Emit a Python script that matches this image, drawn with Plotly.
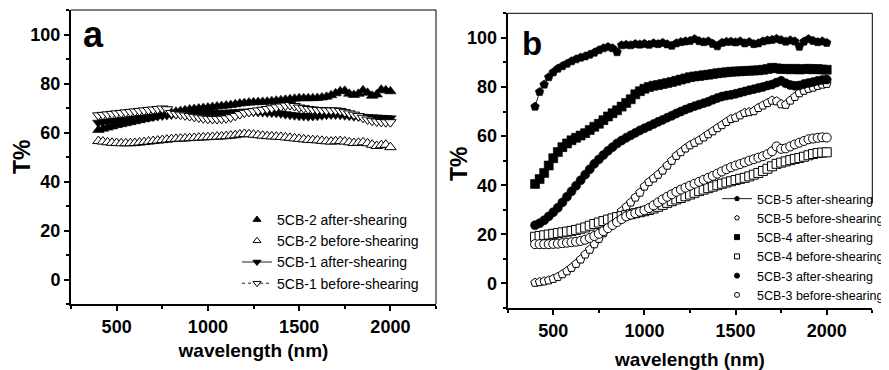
import plotly.graph_objects as go

# ---------------- data ----------------
wavelength = list(range(400, 2025, 25))  # nm, 65 points

# Panel a
a_5cb2_after = [61, 61.5, 62, 62.5, 63, 63.4, 63.8, 64.2,
                64.6, 65, 65.4, 65.8, 66.2, 66.7, 67.2, 67.7,
                68.1, 68.5, 68.8, 69.1, 69.4, 69.6, 69.8, 70,
                70.2, 70.4, 70.6, 70.8, 71, 71.2, 71.5, 71.8,
                72, 72.2, 72.3, 72.4, 72.5, 72.6, 72.8, 73,
                73.2, 73.4, 73.6, 73.8, 74, 74, 74, 74,
                74.1, 74.3, 74.6, 75.2, 76, 76.8, 77, 75.8,
                75.3, 75.8, 77.2, 76.2, 75, 75.5, 77.5, 77.2,
                76.8]
a_5cb2_before = [56.5, 56.3, 56, 55.8, 55.7, 55.6, 55.6, 55.6,
                 55.7, 55.9, 56.1, 56.3, 56.5, 56.7, 56.9, 57.1,
                 57.3, 57.4, 57.5, 57.6, 57.7, 57.8, 57.9, 58,
                 58.1, 58.2, 58.3, 58.4, 58.5, 58.7, 58.9, 59.2,
                 59.4, 59.3, 59.1, 58.9, 58.7, 58.5, 58.4, 58.3,
                 58.2, 58, 57.8, 57.6, 57.4, 57.2, 57, 56.9,
                 56.8, 56.6, 56.4, 56.3, 56.4, 56.5, 56.3, 56,
                 55.7, 55.8, 56, 55.6, 55, 54.5, 54.8, 55,
                 54]
a_5cb1_after = [64, 64.3, 64.5, 64.7, 64.9, 65.1, 65.3, 65.5,
                65.7, 65.9, 66.1, 66.3, 66.5, 66.7, 66.9, 67.1,
                67.3, 67.5, 67.6, 67.7, 67.8, 67.9, 68, 68,
                68, 68, 68, 68, 68.1, 68.2, 68.3, 68.4,
                68.5, 68.5, 68.5, 68.4, 68.3, 68.2, 68.1, 68,
                67.8, 67.5, 67.2, 67, 66.8, 66.7, 66.6, 66.7,
                66.8, 67, 67.2, 67.3, 67.3, 67.2, 67, 66.8,
                66.6, 66.5, 66.4, 66.3, 66.2, 66.1, 66, 65.9,
                65.8]
a_5cb1_before = [67, 67.2, 67.4, 67.6, 67.8, 68, 68.2, 68.4,
                 68.6, 68.8, 69, 69.2, 69.4, 69.6, 69.8, 69.5,
                 68, 67.6, 67.3, 67, 66.7, 66.4, 66.1, 65.8,
                 65.6, 65.5, 65.5, 65.6, 65.8, 66.2, 66.8, 67.5,
                 68.1, 68.4, 68.7, 69, 69.3, 69.6, 69.9, 70.3,
                 70.6, 71, 71.2, 70.8, 70.2, 69.9, 69.6, 69.4,
                 69.2, 69.1, 69, 69, 69, 68.8, 68.3, 67.8,
                 67.3, 66.7, 66, 65.3, 64.8, 64.5, 64.3, 64.2,
                 64.2]

# Panel b
b_5cb5_after = [72, 78, 81, 84, 86, 87.5, 88.5, 89.5,
                90.5, 91.3, 92, 92.5, 93.2, 94, 95, 95.8,
                96.3, 95.8, 94.2, 97, 97.2, 97, 97.5, 97.3,
                97.6, 97.2, 97.8, 97.5, 98, 97.4, 96.8, 97.8,
                98.3, 98.6, 98.8, 99.5, 98.7, 98.3, 98.6, 97.6,
                96.6, 98, 98.4, 98.5, 98.2, 98.6, 97.8, 98.3,
                97.5, 97.8, 98.6, 99, 99.2, 99.6, 99.1, 98.5,
                99, 98.6, 96.4, 98.5, 99.5, 98.8, 98.3, 98.6,
                98]
b_5cb5_before = [0.3, 0.6, 0.9, 1.3, 1.9, 2.7, 3.8, 5,
                 6.4, 8, 9.8, 11.8, 13.8, 16, 18.2, 20.5,
                 22.8, 25, 27.3, 29.5, 31.2, 33, 35, 37,
                 39.5, 41.3, 42.8, 44.3, 46, 48, 50, 52,
                 53.5, 55, 56.3, 57.3, 58.3, 59.5, 60.8, 62,
                 63.3, 64.5, 65.8, 67, 67.5, 68.5, 69.5, 69.8,
                 70.2, 71.5, 72.5, 73.5, 74.5, 74.2, 73, 72.8,
                 74.5, 76, 77.5, 78.5, 79.3, 79.8, 80.5, 81,
                 81.3]
b_5cb4_after = [40.5, 42.5, 45, 48, 51, 53.5, 55.5, 57,
                58.3, 59.3, 60.2, 61.2, 62.5, 63.8, 65, 66.5,
                68, 69.3, 70.5, 72, 73.5, 75, 77, 78.3,
                79.3, 80, 80.5, 80.8, 81.2, 81.6, 82, 82.5,
                83, 83.5, 84, 84.3, 84.5, 84.8, 85, 85.3,
                85.6, 85.8, 86, 86.2, 86.3, 86.4, 86.5, 86.6,
                86.7, 86.8, 87, 87.3, 87.8, 87.6, 87.3, 87.4,
                87.2, 87.4, 87.1, 87.3, 87.4, 87.2, 87.3, 87.1,
                87]
b_5cb4_before = [19, 19.3, 19.6, 19.9, 20.2, 20.5, 20.8, 21.1,
                 21.4, 21.8, 22.3, 22.8, 23.5, 24.2, 24.8, 25.4,
                 26, 26.5, 27, 27.4, 27.8, 28.2, 28.6, 29,
                 29.4, 29.9, 30.5, 31.2, 32, 32.8, 33.5, 34.2,
                 34.8, 35.5, 36.2, 36.9, 37.6, 38.2, 38.8, 39.4,
                 40, 40.6, 41.1, 41.6, 42.1, 42.6, 43, 43.6,
                 44.3, 45, 45.8, 46.7, 47.7, 48.7, 49.2, 49.7,
                 50.2, 50.7, 51.1, 51.6, 52.2, 52.7, 53.1, 53.3,
                 53.4]
b_5cb3_after = [23.7, 24.5, 25.7, 27.3, 29, 30.8, 33, 35.3,
                37.5, 39.8, 42, 44.3, 46.5, 48.7, 50.5, 52.3,
                54, 55.5, 57, 58.2, 59.3, 60.3, 61.3, 62.3,
                63.2, 64, 64.9, 65.8, 66.6, 67.5, 68.3, 69.2,
                70, 70.8, 71.5, 72.2, 72.8, 73.4, 74, 74.8,
                75.5, 76.1, 76.5, 76.8, 77.2, 77.7, 78.2, 78.7,
                79.1, 79.6, 80, 80.6, 81, 81.8, 82.5, 81.5,
                80.8, 80.5, 80.6, 81.2, 81.6, 82, 82.5, 82.8,
                83]
b_5cb3_before = [16, 16, 16, 16, 16.1, 16.2, 16.4, 16.6,
                 16.8, 17, 17.3, 17.8, 18.5, 19.3, 20.2, 21.3,
                 22.5, 23.8, 25, 26.2, 27.3, 28, 28.6, 29.2,
                 29.8, 30.7, 31.8, 33, 34.2, 35.3, 36.3, 37.3,
                 38.2, 39, 39.8, 40.6, 41.4, 42.2, 43, 43.8,
                 44.7, 45.6, 46.5, 47.3, 48, 48.6, 49.3, 50,
                 50.6, 51.2, 51.8, 52.6, 53.8, 55.8, 54.8, 55,
                 55.8, 56.6, 57.3, 58, 58.7, 59, 59.3, 59.5,
                 59.4]

names_a = ["5CB-2 after-shearing", "5CB-2 before-shearing",
           "5CB-1 after-shearing", "5CB-1 before-shearing"]
names_b = ["5CB-5 after-shearing", "5CB-5 before-shearing",
           "5CB-4 after-shearing", "5CB-4 before-shearing",
           "5CB-3 after-shearing", "5CB-3 before-shearing"]

x_ticks = [500, 1000, 1500, 2000]
y_ticks = [0, 20, 40, 60, 80, 100]

# ---------------- styling ----------------
FONT = "Liberation Sans, Arial, Helvetica, sans-serif"
# the page body has an 8 px default margin; size the figure to the rest
OFF = 8
W, H = 889 - OFF, 370 - OFF


def px(x):
    return (x - OFF) / W


def py(y):
    return 1 - (y - OFF) / H


# (values, symbol, filled, mode, line dash)
series_a = [
    (a_5cb2_after, "triangle-up", True, "markers", None),
    (a_5cb2_before, "triangle-up", False, "markers", None),
    (a_5cb1_after, "triangle-down", True, "lines+markers", "solid"),
    (a_5cb1_before, "triangle-down", False, "lines+markers", "dot"),
]
series_b = [
    (b_5cb5_after, "pentagon", True, "lines+markers", "solid"),
    (b_5cb5_before, "pentagon", False, "markers", None),
    (b_5cb4_after, "square", True, "markers", None),
    (b_5cb4_before, "square", False, "markers", None),
    (b_5cb3_after, "circle", True, "markers", None),
    (b_5cb3_before, "circle", False, "markers", None),
]

fig = go.Figure()


def add_series(series, names, xa, ya, legend, msize, lsize):
    for (vals, sym, filled, mode, dash), name in zip(series, names):
        fill = "black" if filled else "white"
        line = dict(color="#222222", width=1, dash=dash) if dash else None
        fig.add_trace(go.Scatter(
            x=wavelength, y=vals, mode=mode, name=name,
            xaxis=xa, yaxis=ya, showlegend=False,
            line=line,
            marker=dict(symbol=sym, size=msize, color=fill,
                        line=dict(color="black", width=1 if not filled else 0.6)),
        ))
        # legend entry (smaller symbol like the original)
        fig.add_trace(go.Scatter(
            x=[None], y=[None], mode=mode, name=name,
            xaxis=xa, yaxis=ya, legend=legend, showlegend=True,
            line=line,
            marker=dict(symbol=sym, size=lsize, color=fill,
                        line=dict(color="black", width=1)),
        ))


add_series(series_a, names_a, "x", "y", "legend", 10, 7)
add_series(series_b, names_b, "x2", "y2", "legend2", 9, 5)

dom_a_x = [px(71), px(436)]
dom_a_y = [py(304), py(10)]
dom_b_x = [px(507.7), px(872.3)]
dom_b_y = [py(308), py(13.3)]

tickfont = dict(family=FONT, size=18, color="black")
titlefont = dict(family=FONT, size=19, color="black")
ytitlefont = dict(family=FONT, size=23, color="black")


def bold(v):
    return "<b>%s</b>" % v


def xaxis(domain, anchor, standoff):
    return dict(domain=domain, anchor=anchor, range=[250, 2250],
                tickmode="array", tickvals=x_ticks,
                ticktext=[bold(v) for v in x_ticks],
                ticks="outside", ticklen=5, tickwidth=1.5, tickcolor="black",
                minor=dict(ticks="outside", ticklen=3, tickwidth=1.5,
                           tickcolor="black", dtick=250, tick0=250),
                showline=True, linewidth=2, linecolor="black",
                showgrid=False, zeroline=False, tickfont=tickfont,
                automargin=False,
                title=dict(text=bold("wavelength (nm)"), font=titlefont,
                           standoff=standoff))


def yaxis(domain, anchor):
    return dict(domain=domain, anchor=anchor, range=[-10, 110],
                tickmode="array", tickvals=y_ticks,
                ticktext=[bold(v) for v in y_ticks],
                ticks="outside", ticklen=5, tickwidth=1.5, tickcolor="black",
                minor=dict(ticks="outside", ticklen=3, tickwidth=1.5,
                           tickcolor="black", dtick=10, tick0=-10),
                showline=True, linewidth=2, linecolor="black",
                showgrid=False, zeroline=False, tickfont=tickfont,
                automargin=False)


fig.update_layout(
    width=W, height=H,
    margin=dict(l=0, r=0, t=0, b=0, autoexpand=False),
    paper_bgcolor="white", plot_bgcolor="white",
    font=dict(family=FONT, color="black"),
    xaxis=xaxis(dom_a_x, "y", 8),
    yaxis=yaxis(dom_a_y, "x"),
    xaxis2=xaxis(dom_b_x, "y2", 14),
    yaxis2=yaxis(dom_b_y, "x2"),
    legend=dict(x=px(237), xanchor="left", y=py(251.5), yanchor="middle",
                bgcolor="rgba(0,0,0,0)", borderwidth=0,
                font=dict(family=FONT, size=14, color="black"),
                tracegroupgap=0),
    legend2=dict(x=px(717), xanchor="left", y=py(310), yanchor="bottom",
                 bgcolor="rgba(0,0,0,0)", borderwidth=0,
                 font=dict(family=FONT, size=12.5, color="black"),
                 tracegroupgap=0),
    showlegend=True,
)

# thin top/right frame lines
frame = dict(type="line", line=dict(color="black", width=1), layer="above")
fig.add_shape(xref="x domain", yref="y domain", x0=0, x1=1, y0=1, y1=1, **frame)
fig.add_shape(xref="x domain", yref="y domain", x0=1, x1=1, y0=0, y1=1, **frame)
fig.add_shape(xref="x2 domain", yref="y2 domain", x0=0, x1=1, y0=1, y1=1, **frame)
fig.add_shape(xref="x2 domain", yref="y2 domain", x0=1, x1=1, y0=0.356, y1=1, **frame)

# y-axis titles
for xc, yc in [(22, 157), (459, 163)]:
    fig.add_annotation(text=bold("T%"), xref="paper", yref="paper",
                       x=px(xc), y=py(yc), xanchor="center", yanchor="middle",
                       textangle=-90, showarrow=False, font=ytitlefont)

# panel labels
fig.add_annotation(text=bold("a"), xref="paper", yref="paper", x=px(93), y=py(34),
                   xanchor="center", yanchor="middle", showarrow=False,
                   font=dict(family=FONT, size=36, color="black"))
fig.add_annotation(text=bold("b"), xref="paper", yref="paper", x=px(532), y=py(43),
                   xanchor="center", yanchor="middle", showarrow=False,
                   font=dict(family=FONT, size=33, color="black"))

fig.write_html("out.html")
